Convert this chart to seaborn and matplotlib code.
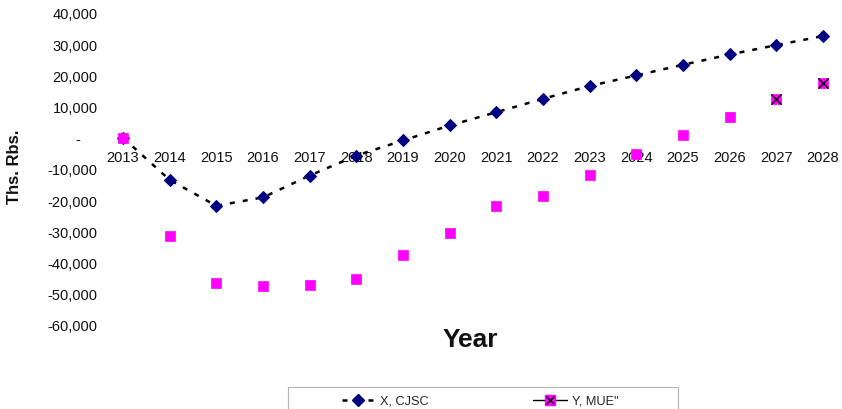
import matplotlib
matplotlib.use("Agg")
import matplotlib.pyplot as plt
import seaborn as sns
from matplotlib.lines import Line2D
from matplotlib.patches import Rectangle
from matplotlib.legend_handler import HandlerTuple
from matplotlib.ticker import FuncFormatter

# Annual values, thousand roubles
years = list(range(2013, 2029))
x_cjsc = [0, -13500, -21800, -19100, -12100, -5700, -850, 3950, 8200,
          12500, 16600, 20000, 23400, 26700, 29700, 32600]
y_mue = [0, -31500, -46600, -47400, -47100, -45200, -37700, -30400, -22000,
         -18600, -11800, -5100, 1000, 6700, 12300, 17500]
series_labels = ["X, CJSC", 'Y, MUE"']
y_ticks = list(range(-60000, 40001, 10000))

NAVY = "#000080"
PINK = "#FF00FF"

sns.set_theme(style="white")
plt.rcParams["font.family"] = ["Liberation Sans", "DejaVu Sans"]

W, H = 842, 410
fig = plt.figure(figsize=(W / 100, H / 100), dpi=100)
ax = fig.add_axes([99.7 / W, (H - 326) / H, (W - 99.7) / W, 312 / H])

# X series: dashed black line with navy diamonds
sns.lineplot(x=years, y=x_cjsc, ax=ax, color="black", lw=1.8,
             marker="D", markersize=5.8, markerfacecolor=NAVY,
             markeredgecolor=NAVY, zorder=3, clip_on=False)
ax.lines[-1].set_dashes((2.0, 3.2))

# Y series: magenta squares
sns.scatterplot(x=years, y=y_mue, ax=ax, marker="s", s=55, color=PINK,
                edgecolor=PINK, linewidth=0.5, zorder=4, clip_on=False)
sns.scatterplot(x=years[-2:], y=y_mue[-2:], ax=ax, marker="x", s=55,
                color="black", linewidth=1.0, zorder=5, clip_on=False)

ax.set_xlim(2012.5, 2028.407)
ax.set_ylim(-60000, 40000)
ax.set_xticks(years)
ax.set_yticks(y_ticks)
ax.yaxis.set_major_formatter(
    FuncFormatter(lambda v, _: "-    " if v == 0 else f"{int(v):,}"))
for s in ax.spines.values():
    s.set_visible(False)
ax.spines["bottom"].set_position(("data", 0))
ax.tick_params(axis="both", length=0, labelsize=10.5, labelcolor="#111111")
ax.tick_params(axis="x", pad=8.5)
ax.tick_params(axis="y", pad=1.5)
ax.set_xlabel("")
ax.set_ylabel("")
ax.grid(False)

fig.text(470 / W, 1 - 340 / H, "Year", ha="center", va="center",
         fontsize=19, fontweight="bold", color="#111111")
fig.text(15 / W, 1 - 167 / H, "Ths. Rbs.", ha="center", va="center",
         rotation=90, fontsize=12, fontweight="bold", color="#111111")

# Legend box along the bottom edge
fig.add_artist(Rectangle((288 / W, -0.05), 390 / W, (H - 388) / H + 0.05,
                         transform=fig.transFigure, fill=False,
                         edgecolor="#b5b5b5", lw=0.8))
h1 = Line2D([], [], color="black", lw=1.8, dashes=(2.0, 3.2), marker="D",
            markersize=5.8, markerfacecolor=NAVY, markeredgecolor=NAVY)
h2 = (Line2D([], [], color="black", lw=1.0, marker="s", markersize=7,
             markerfacecolor=PINK, markeredgecolor=PINK),
      Line2D([], [], ls="none", marker="x", markersize=6, color="black",
             markeredgewidth=1.0))
fig.legend([h1, h2], series_labels, loc="center",
           bbox_to_anchor=(480 / W, 1 - 402 / H), ncol=2, frameon=False,
           fontsize=9.2, handlelength=2.6, handletextpad=0.4,
           columnspacing=8.2, handler_map={tuple: HandlerTuple(ndivide=1)})

fig.savefig("out.png", dpi=100)
